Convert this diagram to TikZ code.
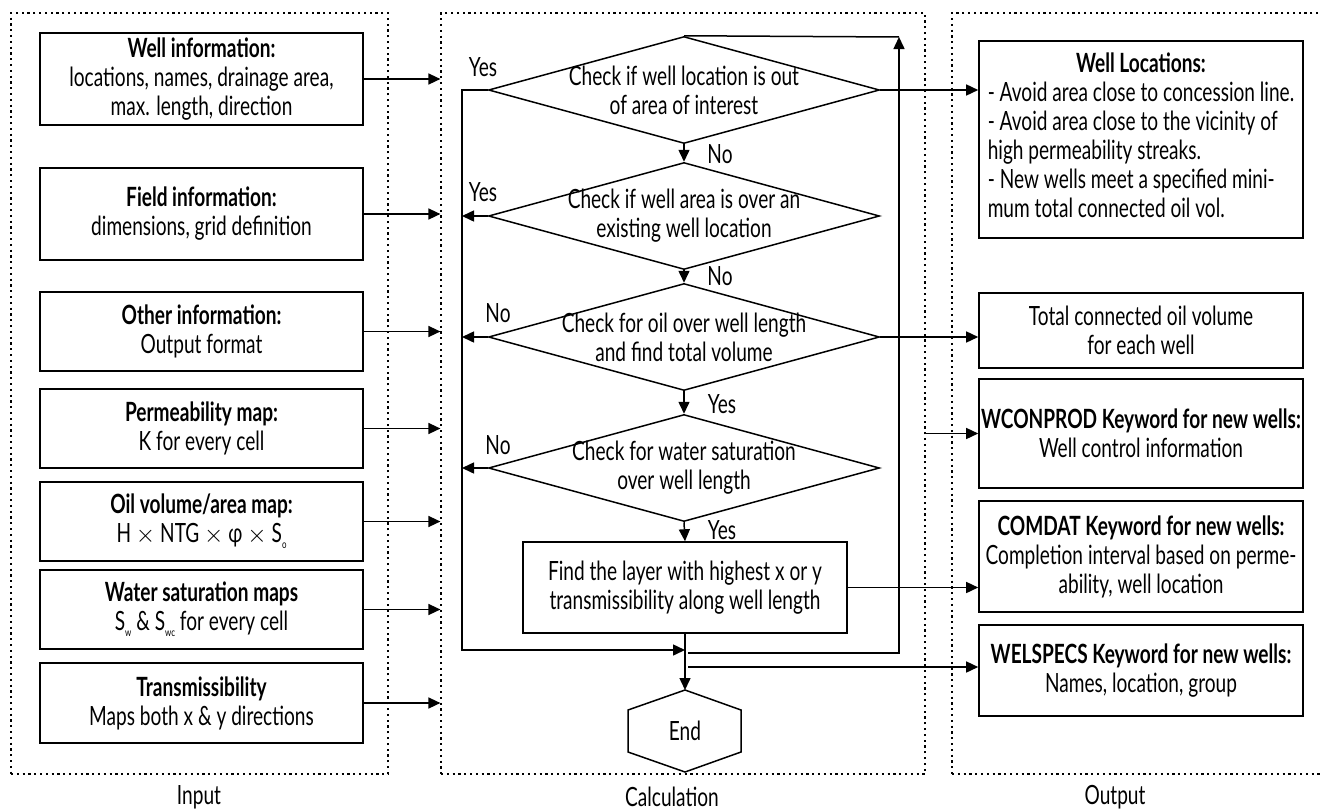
\documentclass[tikz,border=0pt]{standalone}
\usepackage{fontspec}
\setmainfont{Lato}[FakeStretch=0.72]
\usetikzlibrary{arrows.meta,shapes.geometric,positioning}
\newcommand{\sub}[1]{\raisebox{-6pt}{\fontsize{11}{11}\selectfont #1}}
\tikzset{
  panel/.style={draw, line width=1.2pt, dash pattern=on 2.2pt off 3.6pt, inner sep=0pt},
  inbox/.style={draw, line width=1.6pt, minimum width=323pt, align=center, inner sep=0pt},
  outbox/.style={draw, line width=1.6pt, minimum width=324pt, align=center, inner sep=0pt},
  decision/.style={diamond, draw, line width=1.5pt, minimum width=391pt, minimum height=107pt, inner sep=0pt},
  process/.style={draw, line width=1.5pt, minimum width=324pt, minimum height=91pt, align=center, inner sep=0pt},
  arr/.style={line width=1.5pt, -{Triangle[length=12pt,width=11pt]}},
  conn/.style={line width=1.5pt},
  tag/.style={inner sep=0pt}
}
\begin{document}
\begin{tikzpicture}[x=1pt,y=-1pt,font=\fontsize{26.5}{29}\selectfont]
\useasboundingbox (0,0) rectangle (1322,811);
% panels
\node[panel, minimum width=377pt, minimum height=761pt] (inp) at (199.5,393.5) {};
\node[panel, minimum width=484pt, minimum height=761pt] (calcp) at (683,393.5) {};
\node[panel, minimum width=400pt, minimum height=761pt] (outp) at (1152,393.5) {};
\node[tag] (inlab) at (199,797) {Input};
\node[tag] (calclab) at (672,797) {Calculation};
\node[tag] (outlab) at (1115,797) {Output};
% input boxes
\node[inbox, minimum height=92pt] (in1) at (201.5,79) {\textbf{Well information:}\\locations, names, drainage area,\\max. length, direction};
\node[inbox, minimum height=92pt] (in2) at (201.5,214) {\textbf{Field information:}\\dimensions, grid definition};
\node[inbox, minimum height=79pt] (in3) at (201.5,331.5) {\textbf{Other information:}\\Output format};
\node[inbox, minimum height=79pt] (in4) at (201.5,428.5) {\textbf{Permeability map:}\\K for every cell};
\node[inbox, minimum height=79pt] (in5) at (201.5,521.5) {\textbf{Oil volume/area map:}\\H $\times$ NTG $\times$ φ $\times$ S\sub{o}};
\node[inbox, minimum height=79pt] (in6) at (201.5,609.5) {\textbf{Water saturation maps}\\S\sub{w} \& S\sub{wc} for every cell};
\node[inbox, minimum height=80pt] (in7) at (201.5,703) {\textbf{Transmissibility}\\Maps both x \& y directions};
\foreach \i in {1,...,7}
  \draw[arr] (in\i.east) -- (in\i.east -| calcp.west);
% calculation
\node[decision] (d1) at (684,90) {};
\node[tag, align=center] (d1t) at (d1) {Check if well location is out\\of area of interest};
\node[decision] (d2) at (684,216) {};
\node[tag, align=center] (d2t) at (d2) {Check if well area is over an\\existing well location};
\node[decision] (d3) at (684,337) {};
\node[tag, align=center] (d3t) at (d3) {Check for oil over well length\\and find total volume};
\node[decision] (d4) at (684,468) {};
\node[tag, align=center] (d4t) at (d4) {Check for water saturation\\over well length};
\node[process] (find) at (685,587.5) {Find the layer with highest x or y\\transmissibility along well length};
\draw[line width=1.5pt] (628,710) -- (685,690) -- (741,710) -- (741,752) -- (685,772) -- (628,752) -- cycle;
\node[tag] (endn) at (685,731) {End};
\coordinate (endtop) at (685,690);
\coordinate (lft) at (462,90);
\coordinate (join) at (685,650);
\coordinate (back) at (688,653);
\coordinate (up) at (899,37);
\coordinate (spec) at (688,667);
\draw[arr] (d1.south) -- (d2.north);
\draw[arr] (d2.south) -- (d3.north);
\draw[arr] (d3.south) -- (d4.north);
\draw[arr] (d4.south) -- (find.north);
\draw[arr] (find.south) -- (endtop);
\draw[arr] (d1.west) -- (lft) |- (join);
\draw[arr] (d2.west) -- (d2.west -| lft);
\draw[arr] (d3.west) -- (d3.west -| lft);
\draw[arr] (d4.west) -- (d4.west -| lft);
\draw[arr] (back) -| (up);
\draw[conn] (d1.north) -- (up);
\node[tag] (y1) at (483,67) {Yes};
\node[tag] (y2) at (483,192) {Yes};
\node[tag] (n3) at (498,313) {No};
\node[tag] (n4) at (498,445) {No};
\node[tag] (n1) at (720,154) {No};
\node[tag] (n2) at (720,276) {No};
\node[tag] (y3) at (722,404) {Yes};
\node[tag] (y4) at (722,530) {Yes};
% output boxes
\node[outbox, minimum height=197pt] (out1) at (1141,139.5) {\begin{tabular}{@{}l@{}}
  \multicolumn{1}{@{}c@{}}{\textbf{Well Locations:}}\\
  - Avoid area close to concession line.\\
  - Avoid area close to the vicinity of\\
  high permeability streaks.\\
  - New wells meet a specified mini-\\
  mum total connected oil vol.
\end{tabular}};
\node[outbox, minimum height=75pt] (out2) at (1141,330.5) {Total connected oil volume\\for each well};
\node[outbox, minimum height=109pt] (out3) at (1141,433.5) {\textbf{WCONPROD Keyword for new wells:}\\Well control information};
\node[outbox, minimum height=111pt] (out4) at (1141,556.5) {\textbf{COMDAT Keyword for new wells:}\\Completion interval based on perme-\\ability, well location};
\node[outbox, minimum height=91pt] (out5) at (1141,670.5) {\textbf{WELSPECS Keyword for new wells:}\\Names, location, group};
\draw[arr] (d1.east) -- (d1.east -| out1.west);
\draw[arr] (d3.east) -- (d3.east -| out2.west);
\draw[arr] (out3.west -| calcp.east) -- (out3.west);
\draw[arr] (find.east) -- (find.east -| out4.west);
\draw[arr] (spec) -- (spec -| out5.west);
\end{tikzpicture}
\end{document}
